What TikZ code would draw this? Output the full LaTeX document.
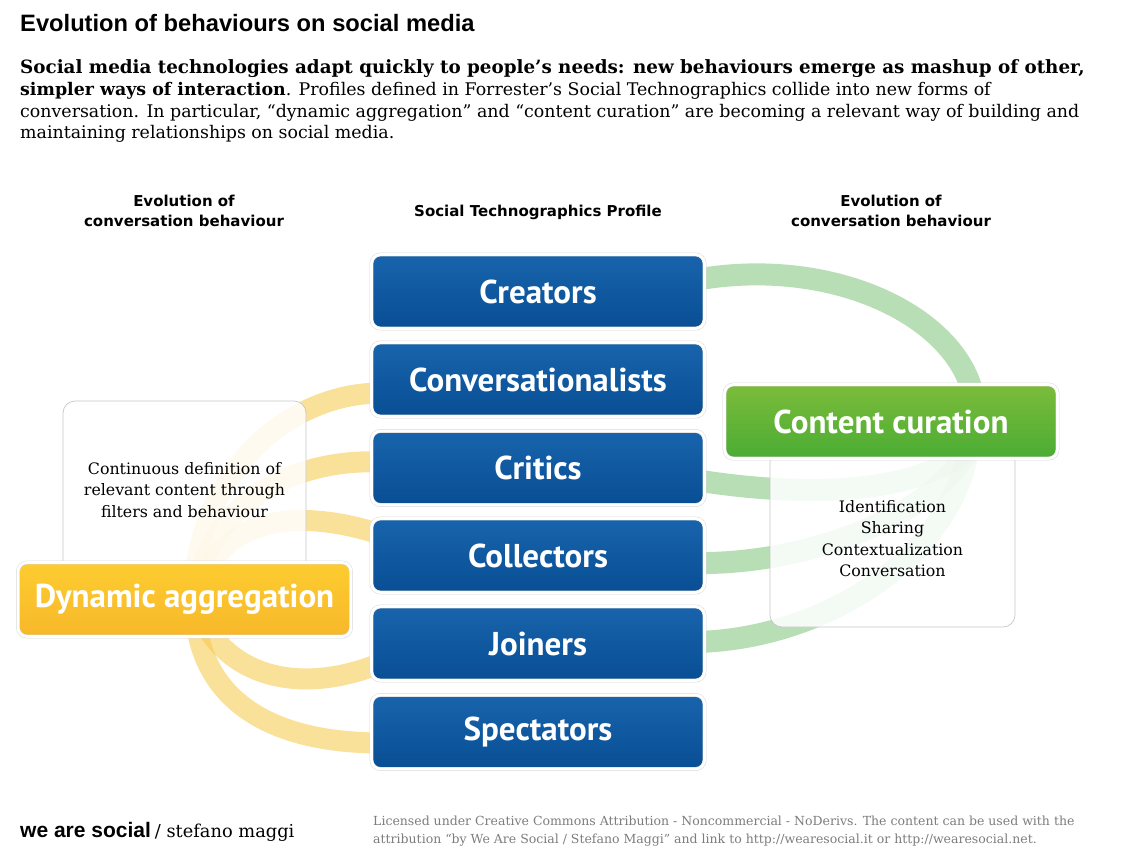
\documentclass[tikz,border=0pt]{standalone}
\usepackage{fontspec}
\setmainfont{DejaVu Serif}
\newfontfamily\boxfont{PT Sans}
\newfontfamily\titlefont{Liberation Sans}
\newfontfamily\headfont{DejaVu Sans}
\usetikzlibrary{calc,shadows}
\definecolor{bluetop}{RGB}{24,100,172}
\definecolor{bluebot}{RGB}{8,78,148}
\definecolor{yeltop}{RGB}{253,204,48}
\definecolor{yelbot}{RGB}{247,184,42}
\definecolor{grntop}{RGB}{124,188,58}
\definecolor{grnbot}{RGB}{74,172,52}
\definecolor{yelarc}{RGB}{247,201,72}
\definecolor{grnarc}{RGB}{124,196,122}
\definecolor{licgray}{RGB}{125,125,125}
\pgfdeclarelayer{bgl}
\pgfdeclarelayer{arcs}
\pgfdeclarelayer{wlayer}
\pgfsetlayers{bgl,arcs,wlayer,main}
\tikzset{
  cbox/.style={rounded corners=9pt, minimum width=333pt, minimum height=74pt,
    draw=black!15, double=white, double distance=2.8pt, line width=0.5pt,
    text=white, inner sep=0pt,
    drop shadow={opacity=0.12, shadow xshift=1pt, shadow yshift=-1.5pt},
    font=\boxfont\bfseries\fontsize{33}{33}\selectfont},
  bluebox/.style={cbox, top color=bluetop, bottom color=bluebot},
  yelbox/.style={cbox, top color=yeltop, bottom color=yelbot},
  grnbox/.style={cbox, top color=grntop, bottom color=grnbot},
  wbox/.style={draw=black!22, line width=0.7pt, rounded corners=12pt,
    fill=white, fill opacity=0.86, text opacity=1, align=center,
    font=\fontsize{15.8}{21.5}\selectfont},
  yband/.style={draw=yelarc, line width=21pt, draw opacity=0.55},
  gband/.style={draw=grnarc, line width=22pt, draw opacity=0.55},
  head/.style={font=\headfont\bfseries\fontsize{15}{20}\selectfont, align=center, inner sep=0pt},
  bodyline/.style={anchor=base west, inner sep=0pt, font=\fontsize{17.4}{20}\selectfont}
}
\begin{document}
\begin{tikzpicture}[x=1pt,y=-1pt]
\useasboundingbox (0,0) rectangle (1146,862);
\begin{pgfonlayer}{bgl}
\fill[white] (0,0) rectangle (1146,862);
\end{pgfonlayer}

% header
\node[anchor=base west, inner sep=0pt] (title) at (20,31)
  {\titlefont\bfseries\fontsize{23.7}{23.7}\selectfont Evolution of behaviours on social media};
\node[bodyline] (l1) at (20,73) {\fontsize{18.3}{20}\selectfont\bfseries Social media technologies adapt quickly to people’s needs: new behaviours emerge as mashup of other,};
\node[bodyline] (l2) at (20,95) {{\bfseries simpler ways of interaction}. Profiles defined in Forrester’s Social Technographics collide into new forms of};
\node[bodyline] (l3) at (20,117) {conversation. In particular, “dynamic aggregation” and “content curation” are becoming a relevant way of building and};
\node[bodyline] (l4) at (20,138) {maintaining relationships on social media.};

% column headings
\node[head] (hleft) at (184,211) {Evolution of\\conversation behaviour};
\node[head] (hmid) at (538,212) {Social Technographics Profile};
\node[head] (hright) at (891,211) {Evolution of\\conversation behaviour};

% profile boxes
\node[bluebox] (creators) at (538,291.5) {Creators};
\node[bluebox] (convers) at (538,379.5) {Conversationalists};
\node[bluebox] (critics) at (538,468) {Critics};
\node[bluebox] (collectors) at (538,555.5) {Collectors};
\node[bluebox] (joiners) at (538,643.5) {Joiners};
\node[bluebox] (spectators) at (538,732) {Spectators};

% behaviour boxes
\node[yelbox] (dyn) at (184.5,599.5) {Dynamic aggregation};
\node[grnbox] (cur) at (891,421.5) {Content curation};

\begin{pgfonlayer}{wlayer}
\node[wbox, minimum width=243pt, minimum height=178pt] (defbox) at (184.5,490)
  {Continuous definition of\\relevant content through\\filters and behaviour};
\node[wbox, minimum width=245pt, minimum height=177pt] (curbox) at (892.5,538.5)
  {Identification\\Sharing\\Contextualization\\Conversation};
\end{pgfonlayer}

\begin{pgfonlayer}{arcs}
\coordinate (yc) at ($(dyn.center)+(10,0)$);
\draw[yband] (yc) .. controls (192,485) and (280,393) .. ($(convers.west)+(10,13.5)$);
\draw[yband] (yc) .. controls (205,510) and (285,458) .. ($(critics.west)+(10,-6)$);
\draw[yband] (yc) .. controls (215,520) and (290,505) .. ($(collectors.west)+(10,-21)$);
\draw[yband] (yc) .. controls (215,670) and (290,700) .. ($(joiners.west)+(10,19.5)$);
\draw[yband] (yc) .. controls (195,700) and (270,743) .. ($(spectators.west)+(10,11)$);
\coordinate (gc) at ($(cur.center)+(77,28.5)$);
\draw[gband] ($(creators.east)+(-10,-11.5)$) .. controls (860,250) and (1010,345) .. (gc);
\draw[gband] ($(critics.east)+(-10,12)$) .. controls (820,500) and (920,490) .. (gc);
\draw[gband] ($(collectors.east)+(-10,7.5)$) .. controls (800,565) and (930,520) .. (gc);
\draw[gband] ($(joiners.east)+(-10,-1.5)$) .. controls (820,640) and (950,560) .. (gc);
\end{pgfonlayer}

% footer
\node[anchor=base west, inner sep=0pt] (brand) at (20,837)
  {{\titlefont\bfseries\fontsize{21}{21}\selectfont we are social}\hspace{4pt}{\fontsize{17.8}{17.8}\selectfont / stefano maggi}};
\node[anchor=base west, inner sep=0pt, align=left, text=licgray,
  font=\fontsize{12.5}{18}\selectfont] (lic) at (373,843)
  {Licensed under Creative Commons Attribution - Noncommercial - NoDerivs. The content can be used with the\\attribution “by We Are Social / Stefano Maggi” and link to http://wearesocial.it or http://wearesocial.net.};
\end{tikzpicture}
\end{document}
